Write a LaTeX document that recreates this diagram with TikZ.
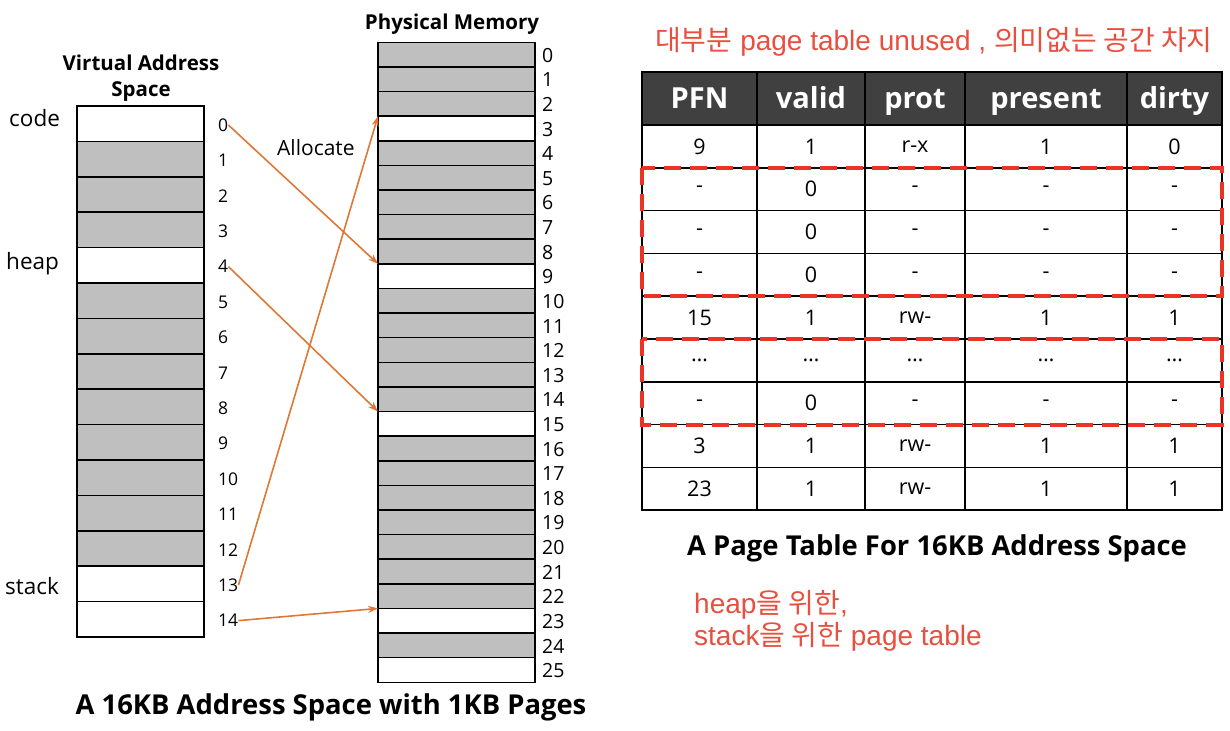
\documentclass[tikz,border=0pt]{standalone}
\usepackage{fontspec}
\setmainfont{Open Sans}
\newfontfamily\cjk{Noto Sans CJK KR}
\newfontfamily\redlat{Liberation Sans}
\usetikzlibrary{arrows.meta}
\definecolor{memgray}{RGB}{191,191,191}
\definecolor{hdr}{RGB}{64,64,64}
\definecolor{arr}{RGB}{222,120,52}
\definecolor{redtxt}{RGB}{233,78,62}
\definecolor{reddash}{RGB}{236,52,36}
\newcommand\trow[7]{%
  \node[cell,minimum width=115pt] (c-#1-1) at (642,#2) {#3};
  \node[cell,minimum width=108pt] (c-#1-2) at (757,#2) {#4};
  \node[cell,minimum width=100pt] (c-#1-3) at (865,#2) {#5};
  \node[cell,minimum width=162pt] (c-#1-4) at (965,#2) {#6};
  \node[cell,minimum width=95pt] (c-#1-5) at (1127,#2) {#7};
}
\begin{document}
\begin{tikzpicture}[x=1pt,y=-1pt,
  vrow/.style={draw=black,line width=1.5pt,minimum width=127pt,minimum height=35.4pt,inner sep=0pt,outer sep=0pt,anchor=north west},
  prow/.style={draw=black,line width=1.5pt,minimum width=157pt,minimum height=24.6pt,inner sep=0pt,outer sep=0pt,anchor=north west},
  numv/.style={anchor=west,inner sep=0pt,font=\fontsize{17.5}{20}\selectfont},
  nump/.style={anchor=west,inner sep=0pt,font=\fontsize{19.5}{22}\selectfont},
  lbl/.style={anchor=west,inner sep=0pt,font=\fontsize{22.5}{26}\selectfont},
  ttl/.style={inner sep=0pt,align=center,font=\bfseries\fontsize{20.5}{26}\selectfont},
  bigttl/.style={inner sep=0pt,font=\bfseries\fontsize{27.4}{32}\selectfont},
  cell/.style={draw=black,line width=1.5pt,minimum height=42.8pt,inner sep=0pt,outer sep=0pt,anchor=north west,font=\fontsize{21.5}{24}\selectfont},
  hcell/.style={cell,fill=hdr,text=white,minimum height=53pt,font=\bfseries\fontsize{29}{32}\selectfont},
  htext/.style={inner sep=0pt,text=white,font=\bfseries\fontsize{29}{32}\selectfont},
  alloc/.style={-{Stealth[length=10pt,width=7pt]},draw=arr,line width=1.6pt},
  reddashed/.style={draw=reddash,line width=4pt,dash pattern=on 17pt off 9pt},
  redt/.style={anchor=west,inner sep=0pt,text=redtxt,font=\redlat\fontsize{28}{32}\selectfont}
]
\useasboundingbox (0,0) rectangle (1230,730);

% Virtual address space
\node[ttl] (vtitle) at (141,78) {Virtual Address\\Space};
\foreach \i/\f in {0/white,1/memgray,2/memgray,3/memgray,4/white,5/memgray,6/memgray,7/memgray,8/memgray,9/memgray,10/memgray,11/memgray,12/memgray,13/white,14/white}{
  \node[vrow,fill=\f] (v\i) at (77,{106+\i*35.4}) {};
  \node[numv] (vl\i) at (218,{106+\i*35.4+19}) {\i};
}
\node[lbl] (code) at (9,118) {code};
\node[lbl] (heap) at (6,264) {heap};
\node[lbl] (stack) at (5,586) {stack};

% Physical memory
\node[ttl] (ptitle) at (452,24) {Physical Memory};
\foreach \i/\f in {0/memgray,1/memgray,2/memgray,3/white,4/memgray,5/memgray,6/memgray,7/memgray,8/memgray,9/white,10/memgray,11/memgray,12/memgray,13/memgray,14/memgray,15/white,16/memgray,17/memgray,18/memgray,19/memgray,20/memgray,21/memgray,22/memgray,23/white,24/memgray,25/white}{
  \node[prow,fill=\f] (p\i) at (378,{42.3+\i*24.615}) {};
  \node[nump] (pl\i) at (542,{42.3+\i*24.615+13}) {\i};
}
\node[anchor=west,inner sep=0pt,font=\fontsize{21}{24}\selectfont] (allocate) at (277,148) {Allocate};

\draw[alloc] (vl0.east) -- (p9.north west);
\draw[alloc] (vl4.east) -- (p15.north west);
\draw[alloc] (vl13.east) -- (p3.north west);
\draw[alloc] (vl14.east) -- (p23.north west);

\node[bigttl] (ltitle) at (331,707) {A 16KB Address Space with 1KB Pages};

% Page table
\node[redt] (rtitle) at (655,42) {{\cjk 대부분} page table unused , {\cjk 의미없는 공간 차지}};
\node[hcell,minimum width=115pt] (h1) at (642,72) {};
\node[hcell,minimum width=108pt] (h2) at (757,72) {};
\node[hcell,minimum width=100pt] (h3) at (865,72) {};
\node[hcell,minimum width=162pt] (h4) at (965,72) {};
\node[hcell,minimum width=95pt] (h5) at (1127,72) {};
\foreach \n/\t in {h1/PFN,h2/valid,h3/prot,h4/present,h5/dirty}{
  \node[htext,anchor=base] (\n t) at ([yshift=-10pt]\n.center) {\t};
}
\trow{1}{125}{9}{1}{r-x}{1}{0}
\trow{2}{167.8}{-}{0}{-}{-}{-}
\trow{3}{210.6}{-}{0}{-}{-}{-}
\trow{4}{253.4}{-}{0}{-}{-}{-}
\trow{5}{296.2}{15}{1}{rw-}{1}{1}
\trow{6}{339}{…}{…}{…}{…}{…}
\trow{7}{381.8}{-}{0}{-}{-}{-}
\trow{8}{424.6}{3}{1}{rw-}{1}{1}
\trow{9}{467.4}{23}{1}{rw-}{1}{1}
\draw[reddashed] (c-2-1.north west) rectangle (c-4-5.south east);
\draw[reddashed] (c-6-1.north west) rectangle (c-7-5.south east);

\node[inner sep=0pt,font=\bfseries\fontsize{27.4}{32}\selectfont] (ttitle) at (937,548) {A Page Table For 16KB Address Space};
\node[redt] (note1) at (694,605) {heap{\cjk 을 위한},};
\node[redt] (note2) at (694,637) {stack{\cjk 을 위한} page table};
\end{tikzpicture}
\end{document}
